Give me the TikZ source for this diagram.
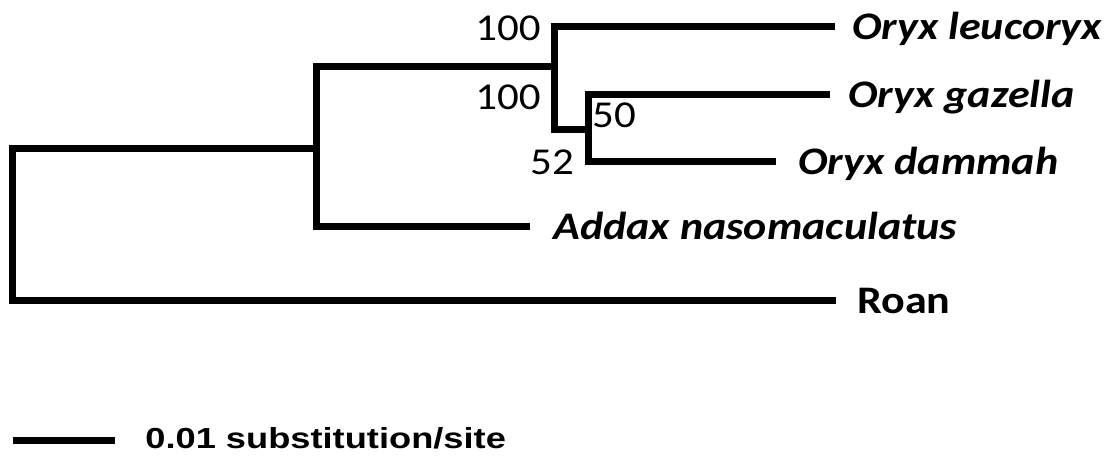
\documentclass[tikz,border=0pt]{standalone}
\usepackage{fontspec}
\setmainfont{Carlito}
\newfontfamily\taxfont[FakeStretch=1.13]{Carlito}
\newfontfamily\barfont[FakeStretch=1.25]{Liberation Sans}
\usetikzlibrary{positioning}

\begin{document}
\begin{tikzpicture}[
      x=0.5pt, y=-0.5pt,
      branch/.style={line width=3.5pt, line join=miter},
      leaf/.style={anchor=base west, inner sep=0pt, yshift=-6.5pt, font=\taxfont\fontsize{19.5}{22}\selectfont\bfseries\itshape},
      outgrp/.style={leaf, font=\taxfont\fontsize{19.5}{22}\selectfont\bfseries},
      boot/.style={anchor=center, inner sep=0pt, font=\taxfont\fontsize{19}{21}\selectfont}
    ]
    \useasboundingbox (0,0) rectangle (1110,456);

    % Internal nodes
    \coordinate (root) at (12,148);
    \coordinate (nA) at (316,148);
    \coordinate (nB) at (554,66);
    \coordinate (nC) at (588,129);

    % Branch tips
    \coordinate (leu) at (835,26);
    \coordinate (gaz) at (830,94);
    \coordinate (dam) at (776,161);
    \coordinate (add) at (530,226);
    \coordinate (roa) at (836,300);

    % Branches
    \draw[branch] (leu) -| (nB) |- (nC);
    \draw[branch] (gaz) -| (nC) |- (dam);
    \draw[branch] (nB) -| (nA) |- (add);
    \draw[branch] (nA) -- (root) |- (roa);

    % Taxa
    \node[leaf, right=8.5pt of leu, anchor=base west] (tLeu) {Oryx leucoryx};
    \node[leaf, right=9pt of gaz, anchor=base west] (tGaz) {Oryx gazella};
    \node[leaf, right=11pt of dam, anchor=base west] (tDam) {Oryx dammah};
    \node[leaf, right=11.5pt of add, anchor=base west] (tAdd) {Addax nasomaculatus};
    \node[outgrp, right=10.5pt of roa, anchor=base west] (tRoa) {Roan};

    % Bootstrap values
    \node[boot] (bs1) at (508,28) {100};
    \node[boot] (bs2) at (508,97) {100};
    \node[boot] (bs3) at (614,115) {50};
    \node[boot] (bs4) at (552,162) {52};

    % Scale bar
    \coordinate (sb0) at (13,440);
    \coordinate (sb1) at (115,440);
    \draw[branch] (sb0) -- (sb1);
    \node[anchor=base west, inner sep=0pt, yshift=-4pt, right=15pt of sb1, anchor=base west,
          font=\barfont\fontsize{14.5}{16}\selectfont\bfseries] (sbtxt) {0.01 substitution/site};

\end{tikzpicture}
\end{document}
